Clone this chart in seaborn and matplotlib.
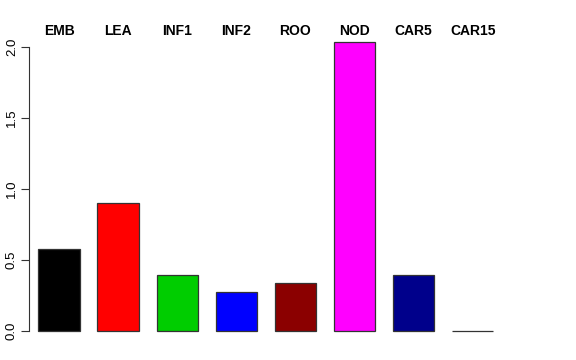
import matplotlib
matplotlib.use("Agg")
import matplotlib.pyplot as plt
import seaborn as sns
import pandas as pd

# valores
categorias = ["EMB", "LEA", "INF1", "INF2", "ROO", "NOD", "CAR5", "CAR15"]
valores = [0.578, 0.902, 0.394, 0.275, 0.340, 2.035, 0.394, 0.003]
colores = ["#000000", "#FF0000", "#00CD00", "#0000FF", "#8B0000", "#FF00FF", "#00008B", "#FFFFFF"]

sns.set_style("white")
plt.rcParams["font.family"] = ["Liberation Sans", "DejaVu Sans"]

df = pd.DataFrame({"cat": categorias, "val": valores})

fig = plt.figure(figsize=(5.76, 3.6), dpi=100)
ax = fig.add_axes([29 / 576, 0.0486, (520 - 29) / 576, 0.9128 - 0.0486])

sns.barplot(data=df, x="cat", y="val", hue="cat", palette=colores, legend=False,
            saturation=1, width=0.7, edgecolor="#333333", linewidth=0.9, ax=ax)

ax.set_xlim(-0.508, 7.8)
ax.set_ylim(-0.081, 2.11)
ax.set_xlabel("")
ax.set_ylabel("")

# etiquetas arriba, en negrita
ax.xaxis.set_ticks_position("top")
ax.tick_params(axis="x", length=0, pad=-4.5, labelsize=10, labelcolor="black")
for lbl in ax.get_xticklabels():
    lbl.set_fontweight("bold")

ax.set_yticks([0, 0.5, 1.0, 1.5, 2.0])
ax.set_yticklabels(["0.0", "0.5", "1.0", "1.5", "2.0"], rotation=90, va="center")
ax.tick_params(axis="y", left=True, length=6, width=0.8, color="#333333",
               pad=2.0, labelsize=9.5, labelcolor="black")

for s in ["top", "right", "bottom"]:
    ax.spines[s].set_visible(False)
ax.spines["left"].set_bounds(0, 2.0)
ax.spines["left"].set_color("#333333")
ax.spines["left"].set_linewidth(0.8)

fig.savefig("out.png", dpi=100)
